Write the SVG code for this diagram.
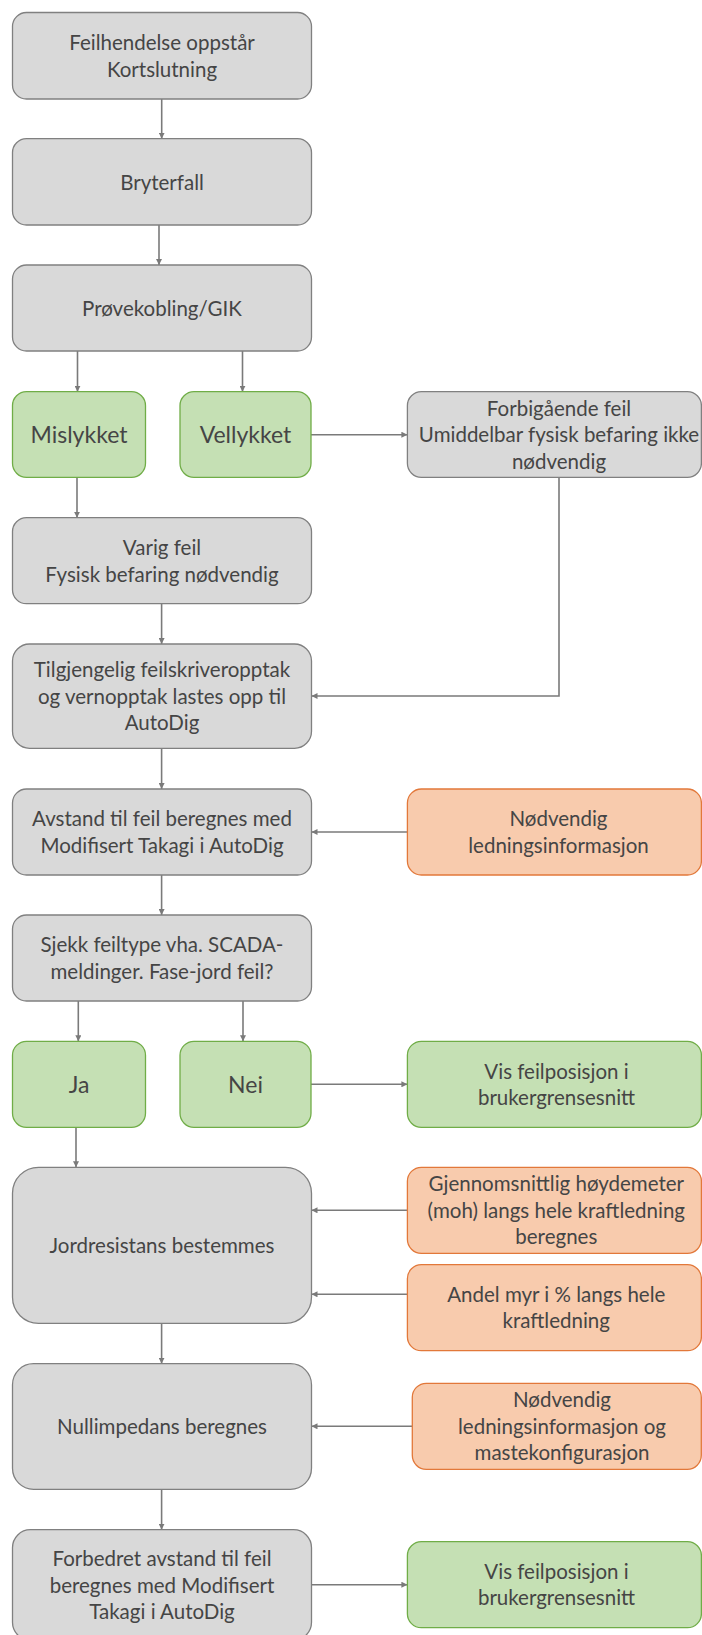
<svg xmlns="http://www.w3.org/2000/svg" width="702" height="1635" viewBox="0 0 702 1635">
  <style>
    .box rect { stroke-width: 1.3; }
    .grey rect { fill: #D9D9D9; stroke: #808080; }
    .green rect { fill: #C5E0B4; stroke: #70AD47; }
    .orange rect { fill: #F8CBAD; stroke: #E2783A; }
    text { font-family: Lato, "Open Sans", "Liberation Sans", sans-serif; font-weight: 400; font-size: 20.5px; fill: #454545; text-anchor: middle; }
    text.big { font-size: 23px; }
    .conn path { fill: none; stroke: #7A7A7A; stroke-width: 1.6; marker-end: url(#arrow); }
  </style>
  <defs>
    <marker id="arrow" markerUnits="userSpaceOnUse" markerWidth="6" markerHeight="6" refX="6" refY="3" orient="auto">
      <path d="M0,0 L6,3 L0,6 z" fill="#7A7A7A"/>
    </marker>
  </defs>

  <!-- connectors -->
  <g id="connectors" class="conn">
    <path d="M161.7,99 V138.7"/>
    <path d="M159,225 V265"/>
    <path d="M77.5,351 V391.7"/>
    <path d="M242.5,351 V391.7"/>
    <path d="M311,434.7 H407.4"/>
    <path d="M559,477.3 V696 H311.5"/>
    <path d="M77,477.3 V517.7"/>
    <path d="M161.6,603.7 V644"/>
    <path d="M161.6,748.3 V789"/>
    <path d="M407.4,832 H311.5"/>
    <path d="M161.6,875 V915"/>
    <path d="M78.3,1001 V1041.3"/>
    <path d="M243,1001 V1041.3"/>
    <path d="M311,1084.3 H407.4"/>
    <path d="M76,1127.3 V1167.3"/>
    <path d="M407.4,1210.3 H311.5"/>
    <path d="M407.4,1294.3 H311.5"/>
    <path d="M161.6,1323.3 V1363.7"/>
    <path d="M412.3,1426.3 H311.5"/>
    <path d="M161.6,1489.3 V1529.7"/>
    <path d="M311,1584.7 H407.4"/>
  </g>

  <!-- main chain -->
  <g id="feilhendelse" class="box grey">
    <rect x="12.5" y="12.5" width="299" height="86.5" rx="14"/>
    <text x="162" y="50">Feilhendelse oppstår</text>
    <text x="162" y="76.5">Kortslutning</text>
  </g>
  <g id="bryterfall" class="box grey">
    <rect x="12.5" y="138.7" width="299" height="86.3" rx="14"/>
    <text x="162" y="189.5">Bryterfall</text>
  </g>
  <g id="provekobling" class="box grey">
    <rect x="12.5" y="265" width="299" height="86" rx="14"/>
    <text x="162" y="315.5">Prøvekobling/GIK</text>
  </g>
  <g id="mislykket" class="box green">
    <rect x="12.5" y="391.7" width="133" height="85.6" rx="14"/>
    <text class="big" x="79" y="443">Mislykket</text>
  </g>
  <g id="vellykket" class="box green">
    <rect x="180" y="391.7" width="131" height="85.6" rx="14"/>
    <text class="big" x="245.5" y="443">Vellykket</text>
  </g>
  <g id="forbigaaende" class="box grey">
    <rect x="407.4" y="391.7" width="294" height="85.6" rx="14"/>
    <text x="559" y="415.5">Forbigående feil</text>
    <text x="559" y="442">Umiddelbar fysisk befaring ikke</text>
    <text x="559" y="468.5">nødvendig</text>
  </g>
  <g id="varig" class="box grey">
    <rect x="12.5" y="517.7" width="299" height="86" rx="14"/>
    <text x="162" y="555">Varig feil</text>
    <text x="162" y="581.5">Fysisk befaring nødvendig</text>
  </g>
  <g id="tilgjengelig" class="box grey">
    <rect x="12.5" y="644" width="299" height="104.3" rx="17"/>
    <text x="162" y="677.2">Tilgjengelig feilskriveropptak</text>
    <text x="162" y="703.7">og vernopptak lastes opp til</text>
    <text x="162" y="730.2">AutoDig</text>
  </g>
  <g id="avstand" class="box grey">
    <rect x="12.5" y="789" width="299" height="86" rx="14"/>
    <text x="162" y="826">Avstand til feil beregnes med</text>
    <text x="162" y="852.5">Modifisert Takagi i AutoDig</text>
  </g>
  <g id="ledningsinfo" class="box orange">
    <rect x="407.4" y="789" width="294" height="86" rx="14"/>
    <text x="558.5" y="826">Nødvendig</text>
    <text x="558.5" y="852.5">ledningsinformasjon</text>
  </g>
  <g id="sjekk" class="box grey">
    <rect x="12.5" y="915" width="299" height="86" rx="14"/>
    <text x="162" y="952">Sjekk feiltype vha. SCADA-</text>
    <text x="162" y="978.5">meldinger. Fase-jord feil?</text>
  </g>
  <g id="ja" class="box green">
    <rect x="12.5" y="1041.3" width="133" height="86" rx="14"/>
    <text class="big" x="79" y="1092.5">Ja</text>
  </g>
  <g id="nei" class="box green">
    <rect x="180" y="1041.3" width="131" height="86" rx="14"/>
    <text class="big" x="245.5" y="1092.5">Nei</text>
  </g>
  <g id="vis-feilposisjon-1" class="box green">
    <rect x="407.4" y="1041.3" width="294" height="86" rx="14"/>
    <text x="556.5" y="1078.5">Vis feilposisjon i</text>
    <text x="556.5" y="1105">brukergrensesnitt</text>
  </g>
  <g id="jordresistans" class="box grey">
    <rect x="12.5" y="1167.3" width="299" height="156" rx="26"/>
    <text x="162" y="1252.8">Jordresistans bestemmes</text>
  </g>
  <g id="hoydemeter" class="box orange">
    <rect x="407.4" y="1167.3" width="294" height="86" rx="14"/>
    <text x="556.3" y="1191.3">Gjennomsnittlig høydemeter</text>
    <text x="556.3" y="1217.8">(moh) langs hele kraftledning</text>
    <text x="556.3" y="1244.3">beregnes</text>
  </g>
  <g id="andel-myr" class="box orange">
    <rect x="407.4" y="1264.7" width="294" height="86" rx="14"/>
    <text x="556.3" y="1301.5">Andel myr i % langs hele</text>
    <text x="556.3" y="1328">kraftledning</text>
  </g>
  <g id="nullimpedans" class="box grey">
    <rect x="12.5" y="1363.7" width="299" height="125.6" rx="21"/>
    <text x="162" y="1434">Nullimpedans beregnes</text>
  </g>
  <g id="mastekonfig" class="box orange">
    <rect x="412.3" y="1383.3" width="289" height="86" rx="14"/>
    <text x="562" y="1407.3">Nødvendig</text>
    <text x="562" y="1433.8">ledningsinformasjon og</text>
    <text x="562" y="1460.3">mastekonfigurasjon</text>
  </g>
  <g id="forbedret" class="box grey">
    <rect x="12.5" y="1529.7" width="299" height="110.6" rx="18"/>
    <text x="162" y="1566">Forbedret avstand til feil</text>
    <text x="162" y="1592.5">beregnes med Modifisert</text>
    <text x="162" y="1619">Takagi i AutoDig</text>
  </g>
  <g id="vis-feilposisjon-2" class="box green">
    <rect x="407.4" y="1541.7" width="294" height="86" rx="14"/>
    <text x="556.5" y="1578.5">Vis feilposisjon i</text>
    <text x="556.5" y="1605">brukergrensesnitt</text>
  </g>
</svg>
